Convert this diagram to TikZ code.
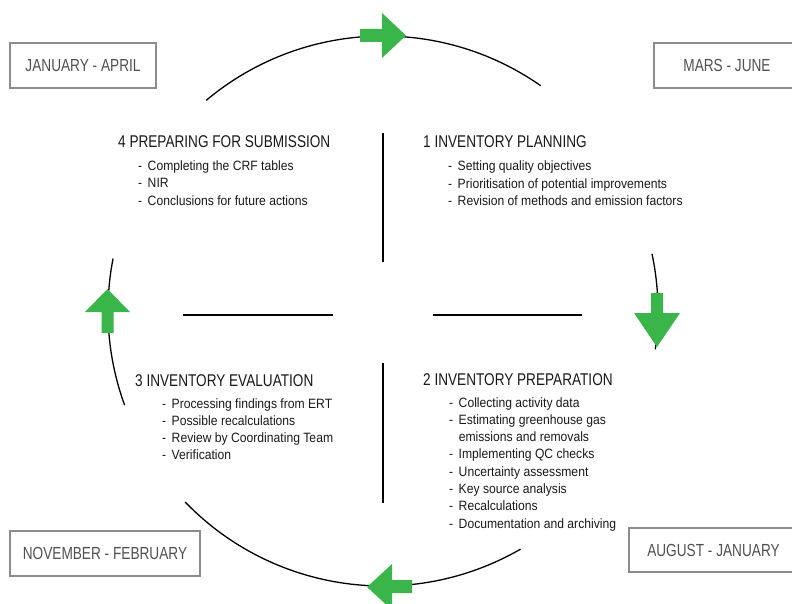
\documentclass[tikz,border=0pt]{standalone}
\usepackage{fontspec}
\setmainfont{Liberation Sans}
\newfontfamily\headfont[FakeStretch=0.8]{Liberation Sans}
\newfontfamily\bulfont[FakeStretch=0.9]{Liberation Sans}
\newfontfamily\boxfont[FakeStretch=0.78]{Liberation Sans}
\definecolor{arrowgreen}{RGB}{57,181,74}
\definecolor{boxline}{RGB}{140,140,140}
\definecolor{boxtext}{RGB}{80,80,80}
\definecolor{ink}{RGB}{25,25,25}
\tikzset{
  period/.style={draw=boxline, line width=1.1pt, text=boxtext, inner sep=0pt,
    font=\boxfont\fontsize{17.5}{20}\selectfont, minimum height=45pt},
  heading/.style={anchor=base west, inner sep=0pt, text=ink,
    font=\headfont\fontsize{17}{20}\selectfont},
  bullets/.style={anchor=base west, inner sep=0pt, text=ink,
    font=\bulfont\fontsize{13.5}{17.3}\selectfont},
  cycleline/.style={line width=1.3pt, black},
  divider/.style={line width=1.6pt, black},
  blockarrow/.style={fill=arrowgreen, draw=none}
}
\newcommand{\itemlist}[1]{\begin{tabular}[t]{@{}l@{\hspace{5.5pt}}l@{}}#1\end{tabular}}
\begin{document}
\begin{tikzpicture}[x=1pt,y=-1pt]
\useasboundingbox (0,0) rectangle (792,604);
% cycle arcs
\coordinate (c) at (383,311);
\draw[cycleline] (c) ++(230:275) arc[start angle=230, end angle=305, radius=275];
\draw[cycleline] (c) ++(-12:275) arc[start angle=-12, end angle=8, radius=275];
\draw[cycleline] (c) ++(60:275) arc[start angle=60, end angle=136, radius=275];
\draw[cycleline] (c) ++(160:275) arc[start angle=160, end angle=191, radius=275];
% block arrows
\fill[blockarrow] (360,29)--(382,29)--(382,13)--(406,35.5)--(382,58)--(382,42)--(360,42)--cycle;
\fill[blockarrow] (651,293)--(663,293)--(663,313)--(680,313)--(657,347)--(634,313)--(651,313)--cycle;
\fill[blockarrow] (412,580)--(392,580)--(392,564)--(367,587)--(392,610)--(392,593)--(412,593)--cycle;
\fill[blockarrow] (101.5,333)--(101.5,312)--(85,312)--(107.5,289)--(130,312)--(113.5,312)--(113.5,333)--cycle;
% dividers
\coordinate (vt1) at (383,133); \coordinate (vt2) at (383,262);
\coordinate (vb1) at (383,363); \coordinate (vb2) at (383,503);
\coordinate (hl1) at (183,315); \coordinate (hl2) at (333,315);
\coordinate (hr1) at (433,315); \coordinate (hr2) at (582,315);
\draw[divider] (vt1) -- (vt2);
\draw[divider] (vb1) -- (vb2);
\draw[divider] (hl1) -- (hl2);
\draw[divider] (hr1) -- (hr2);
% period boxes
\node[period, minimum width=146pt] (jan) at (83,65.5) {JANUARY - APRIL};
\node[period, minimum width=146pt] (mar) at (727,65.5) {MARS - JUNE};
\node[period, minimum width=190pt] (nov) at (105,553.5) {NOVEMBER - FEBRUARY};
\node[period, minimum width=169pt, minimum height=44pt] (aug) at (713.5,550) {AUGUST - JANUARY};
% headings
\node[heading] (h4) at (118,147.5) {4 PREPARING FOR SUBMISSION};
\node[heading] (h1) at (423,148) {1 INVENTORY PLANNING};
\node[heading] (h3) at (135,386) {3 INVENTORY EVALUATION};
\node[heading] (h2) at (423,385.5) {2 INVENTORY PREPARATION};
% lists
\node[bullets] (l4) at (138,170.5) {\itemlist{- & Completing the CRF tables\\ - & NIR\\ - & Conclusions for future actions}};
\node[bullets] (l1) at (448,171) {\itemlist{- & Setting quality objectives\\ - & Prioritisation of potential improvements\\ - & Revision of methods and emission factors}};
\node[bullets] (l3) at (162,408) {\itemlist{- & Processing findings from ERT\\ - & Possible recalculations\\ - & Review by Coordinating Team\\ - & Verification}};
\node[bullets] (l2) at (449,407) {\itemlist{- & Collecting activity data\\ - & Estimating greenhouse gas\\ & emissions and removals\\ - & Implementing QC checks\\ - & Uncertainty assessment\\ - & Key source analysis\\ - & Recalculations\\ - & Documentation and archiving}};
\end{tikzpicture}
\end{document}
